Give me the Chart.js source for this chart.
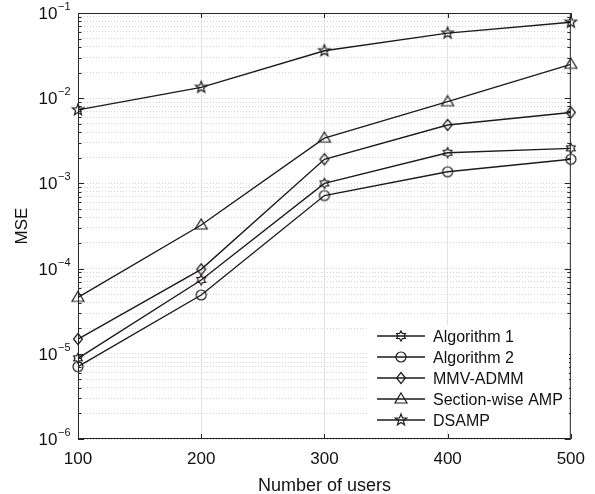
<!DOCTYPE html>
<html>
<head>
<meta charset="utf-8">
<script src="https://cdn.jsdelivr.net/npm/chart.js@4.4.1/dist/chart.umd.min.js"></script>
<style>
  html, body { margin: 0; padding: 0; background: #fff; }
  #wrap { width: 595px; height: 494px; }
</style>
</head>
<body>
<div id="wrap"><canvas id="mseChart" width="595" height="494"></canvas></div>
<script>
// data
const users = [100, 200, 300, 400, 500];
const xTicks = [100, 200, 300, 400, 500];
const yDecades = [-6, -5, -4, -3, -2, -1];
const seriesNames = ["Algorithm 1", "Algorithm 2", "MMV-ADMM", "Section-wise AMP", "DSAMP"];
const markerTypes = ["hexagram", "circle", "diamond", "triangle", "pentagram"];
const algorithm1 = [8.85e-6, 7.35e-5, 1.0e-3, 2.29e-3, 2.58e-3];
const algorithm2 = [7.06e-6, 4.9e-5, 7.2e-4, 1.37e-3, 1.92e-3];
const mmvAdmm = [1.49e-5, 9.8e-5, 1.92e-3, 4.85e-3, 6.8e-3];
const sectionWiseAmp = [4.6e-5, 3.25e-4, 3.4e-3, 9.1e-3, 2.5e-2];
const dsamp = [7.3e-3, 1.34e-2, 3.6e-2, 5.8e-2, 7.8e-2];

const seriesValues = [algorithm1, algorithm2, mmvAdmm, sectionWiseAmp, dsamp];

const LINE = "#1e1a1b";
const AXIS = "#262626";
const TEXT = "#111111";
const FONT = '"Liberation Sans", Arial, sans-serif';

function starPath(ctx, x, y, points, rOut, rIn) {
  ctx.beginPath();
  for (let i = 0; i < points * 2; i++) {
    const r = i % 2 === 0 ? rOut : rIn;
    const a = -Math.PI / 2 + i * Math.PI / points;
    const px = x + r * Math.cos(a);
    const py = y + r * Math.sin(a);
    if (i === 0) ctx.moveTo(px, py); else ctx.lineTo(px, py);
  }
  ctx.closePath();
}

function drawMarker(ctx, type, x, y) {
  ctx.save();
  ctx.strokeStyle = LINE;
  ctx.lineWidth = 1.2;
  if (type === "circle") {
    ctx.beginPath();
    ctx.arc(x, y, 5, 0, Math.PI * 2);
  } else if (type === "diamond") {
    ctx.beginPath();
    ctx.moveTo(x, y - 5.5);
    ctx.lineTo(x + 4.5, y);
    ctx.lineTo(x, y + 5.5);
    ctx.lineTo(x - 4.5, y);
    ctx.closePath();
  } else if (type === "triangle") {
    ctx.beginPath();
    ctx.moveTo(x, y - 6);
    ctx.lineTo(x + 6, y + 4);
    ctx.lineTo(x - 6, y + 4);
    ctx.closePath();
  } else if (type === "pentagram") {
    starPath(ctx, x, y, 5, 6, 2.5);
  } else if (type === "hexagram") {
    starPath(ctx, x, y, 6, 5, 2.9);
  }
  ctx.stroke();
  ctx.restore();
}

function markerImage(type) {
  const c = document.createElement("canvas");
  c.width = 18;
  c.height = 18;
  drawMarker(c.getContext("2d"), type, 9, 9);
  return c;
}

const datasets = seriesNames.map((name, i) => ({
  label: name,
  data: users.map((u, j) => ({ x: u, y: seriesValues[i][j] })),
  borderColor: LINE,
  borderWidth: 1.4,
  pointStyle: markerImage(markerTypes[i]),
  pointRadius: 6,
  fill: false,
  tension: 0,
  clip: false
}));

// box, inward tick marks, y labels with superscripts, legend
const matlabAxes = {
  id: "matlabAxes",
  afterDatasetsDraw(chart) {
    const ctx = chart.ctx;
    const { left, right, top, bottom } = chart.chartArea;
    const xs = chart.scales.x;
    const ys = chart.scales.y;
    ctx.save();
    ctx.strokeStyle = AXIS;
    ctx.lineWidth = 1;
    ctx.beginPath();
    xTicks.forEach(v => {
      const px = Math.round(xs.getPixelForValue(v)) + 0.5;
      ctx.moveTo(px, bottom);
      ctx.lineTo(px, bottom - 5);
      ctx.moveTo(px, top);
      ctx.lineTo(px, top + 5);
    });
    yDecades.forEach(e => {
      for (let m = 1; m <= 9; m++) {
        const v = m * Math.pow(10, e);
        if (v > 0.1 * 1.0001) break;
        const py = Math.round(ys.getPixelForValue(v)) + 0.5;
        const len = m === 1 ? 6 : 3.5;
        ctx.moveTo(left, py);
        ctx.lineTo(left + len, py);
        ctx.moveTo(right, py);
        ctx.lineTo(right - len, py);
      }
    });
    ctx.stroke();
    ctx.strokeRect(left + 0.5, top + 0.5, right - left - 1, bottom - top - 1);
    ctx.restore();
  },
  afterDraw(chart) {
    const ctx = chart.ctx;
    const ys = chart.scales.y;
    ctx.save();
    ctx.fillStyle = TEXT;
    yDecades.forEach(e => {
      const py = ys.getPixelForValue(Math.pow(10, e));
      ctx.font = "17px " + FONT;
      ctx.textAlign = "right";
      ctx.textBaseline = "alphabetic";
      ctx.fillText("10", 57.5, py + 6);
      ctx.font = "11px " + FONT;
      ctx.textAlign = "left";
      ctx.fillText("\u2212" + Math.abs(e), 58, py - 3);
    });

    // legend
    ctx.fillStyle = "#ffffff";
    ctx.fillRect(368, 325, 201, 106);
    seriesNames.forEach((name, i) => {
      const ry = 336 + i * 21;
      ctx.strokeStyle = LINE;
      ctx.lineWidth = 1.4;
      ctx.beginPath();
      ctx.moveTo(377, ry);
      ctx.lineTo(425, ry);
      ctx.stroke();
      drawMarker(ctx, markerTypes[i], 401, ry);
      ctx.fillStyle = TEXT;
      ctx.font = "16px " + FONT;
      ctx.textAlign = "left";
      ctx.textBaseline = "alphabetic";
      ctx.fillText(name, 433, ry + 5.7);
    });
    ctx.restore();
  }
};

new Chart(document.getElementById("mseChart").getContext("2d"), {
  type: "line",
  data: { datasets },
  plugins: [matlabAxes],
  options: {
    responsive: false,
    animation: false,
    devicePixelRatio: 1,
    layout: { padding: { top: 13, right: 24, left: 0, bottom: 0 } },
    plugins: { legend: { display: false }, tooltip: { enabled: false } },
    scales: {
      x: {
        type: "linear",
        min: 100,
        max: 500,
        afterBuildTicks: scale => { scale.ticks = xTicks.map(v => ({ value: v })); },
        afterFit: scale => { scale.height = 55; },
        grid: { color: "#e2e2e2", lineWidth: 1, drawTicks: false },
        border: { display: false },
        ticks: { color: TEXT, padding: 10, font: { family: FONT, size: 17 } },
        title: {
          display: true,
          text: "Number of users",
          color: TEXT,
          font: { family: FONT, size: 18 },
          padding: { top: 0, bottom: -3 }
        }
      },
      y: {
        type: "logarithmic",
        min: 1e-6,
        max: 1e-1,
        afterBuildTicks: scale => {
          const t = [];
          yDecades.forEach(e => {
            for (let m = 1; m <= 9; m++) {
              const v = m * Math.pow(10, e);
              if (v > 0.1 * 1.0001) break;
              t.push({ value: v });
            }
          });
          scale.ticks = t;
        },
        afterFit: scale => { scale.width = 78; },
        grid: { color: "#d2d2d2", lineWidth: 1, drawTicks: false, borderDash: [1, 2] },
        border: { display: false, dash: [1, 2] },
        ticks: { display: false },
        title: {
          display: true,
          text: "MSE",
          color: TEXT,
          font: { family: FONT, size: 17 },
          padding: { top: 12, bottom: 0 }
        }
      }
    }
  }
});
</script>
</body>
</html>
